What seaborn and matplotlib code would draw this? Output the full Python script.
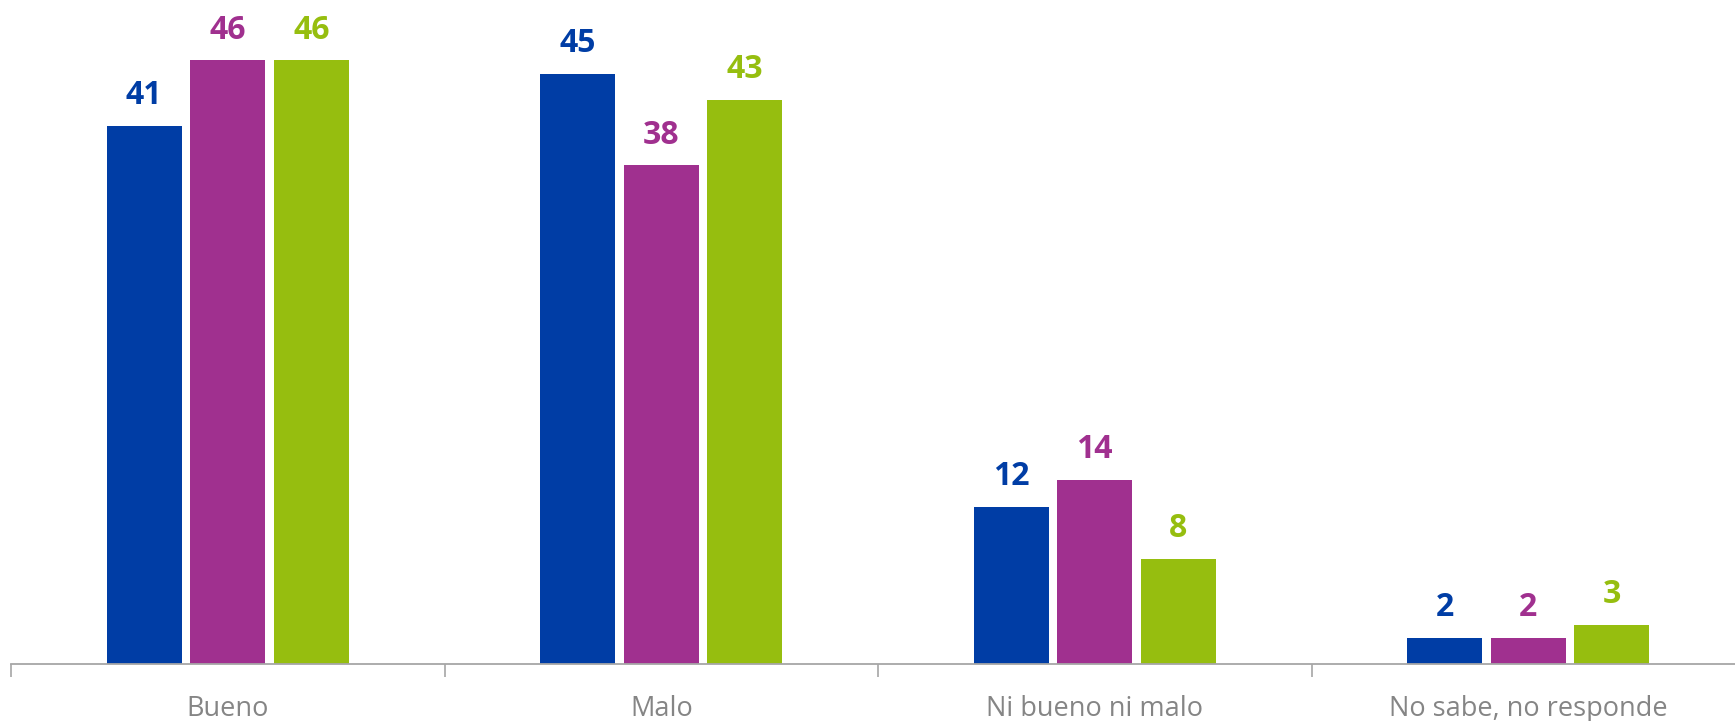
import matplotlib
matplotlib.use("Agg")
import matplotlib.pyplot as plt
import seaborn as sns
import pandas as pd

categories = ["Bueno", "Malo", "Ni bueno ni malo", "No sabe, no responde"]
series_names = ["Serie 1", "Serie 2", "Serie 3"]
serie1 = [41, 45, 12, 2]
serie2 = [46, 38, 14, 2]
serie3 = [46, 43, 8, 3]
colors = ["#003DA5", "#A0308F", "#96BE0F"]

rows = []
for name, vals in zip(series_names, [serie1, serie2, serie3]):
    for c, v in zip(categories, vals):
        rows.append({"cat": c, "serie": name, "valor": v})
df = pd.DataFrame(rows)

sns.set_theme(style="white")
plt.rcParams["font.family"] = ["Open Sans", "DejaVu Sans"]

fig = plt.figure(figsize=(17.35, 7.21), dpi=100)
ax = fig.add_axes([11/1735, 1 - 664/721, 1734/1735, (664 - 8)/721])

sns.barplot(data=df, x="cat", y="valor", hue="serie", palette=colors,
            width=0.578, gap=0.1, ax=ax, legend=False, saturation=1,
            edgecolor="none")

ax.set_ylim(0, 50)
ax.set_xlim(-0.5, 3.5)
ax.set_xlabel("")
ax.set_ylabel("")
ax.set_yticks([])
for s in ["top", "right", "left"]:
    ax.spines[s].set_visible(False)
ax.spines["bottom"].set_color("#A6A6A6")
ax.spines["bottom"].set_linewidth(1.3)

ax.set_xticks(range(len(categories)))
ax.set_xticklabels(categories, color="#858585", fontsize=19.5)
ax.tick_params(axis="x", which="major", length=0, pad=22)
ax.set_xticks([-0.5, 0.5, 1.5, 2.5, 3.5], minor=True)
ax.tick_params(axis="x", which="minor", length=9, width=1.2, color="#A6A6A6", bottom=True)

for cont, col in zip(ax.containers, colors):
    ax.bar_label(cont, labels=[f"{v:g}" for v in cont.datavalues], padding=10,
                 color=col, fontsize=23, fontweight="bold")

fig.savefig("out.png", dpi=100)
